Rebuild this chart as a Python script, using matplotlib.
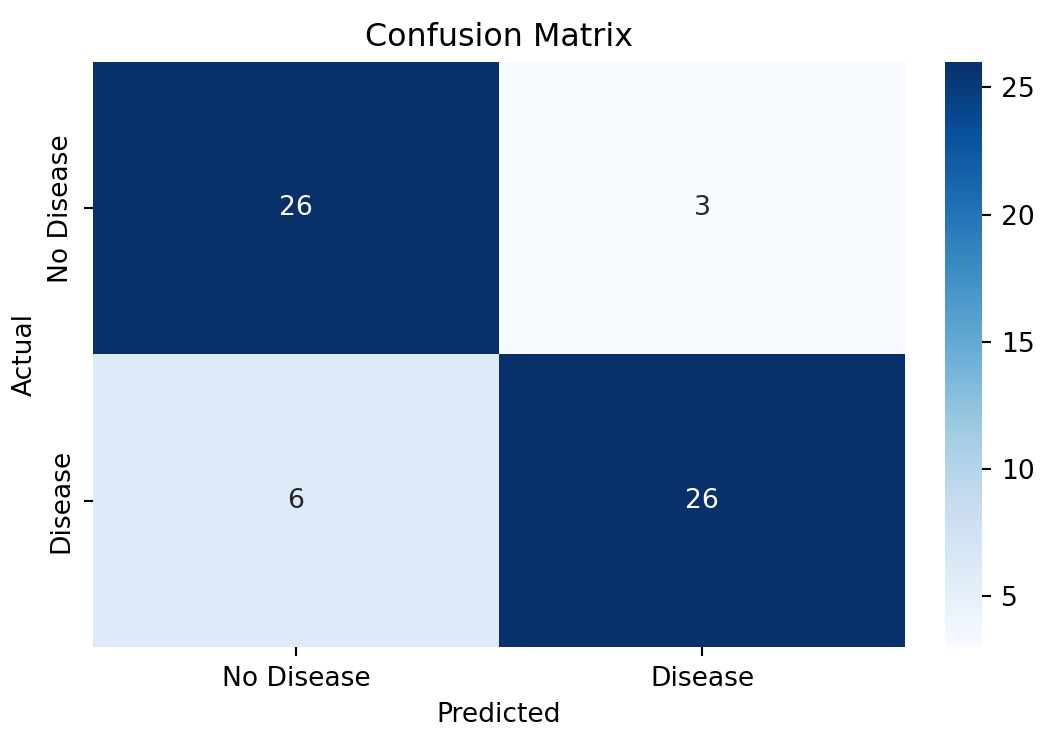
import numpy as np
import matplotlib
matplotlib.use("Agg")
import matplotlib.pyplot as plt
import seaborn as sns

labels = ["No Disease", "Disease"]
cm = np.array([[26, 3],
               [6, 26]])

dpi = 190.8
fig = plt.figure(figsize=(1060 / dpi, 738 / dpi), dpi=dpi)
ax = fig.add_axes([0.0877, 0.1233, 0.7663, 0.7927])
cax = fig.add_axes([0.8915, 0.1233, 0.035, 0.7927])

sns.heatmap(cm, annot=True, fmt="d", cmap="Blues",
            xticklabels=labels, yticklabels=labels,
            ax=ax, cbar_ax=cax)

ax.set_title("Confusion Matrix", fontsize=12)
ax.set_xlabel("Predicted")
ax.set_ylabel("Actual")

fig.savefig("out.png", dpi=dpi)
